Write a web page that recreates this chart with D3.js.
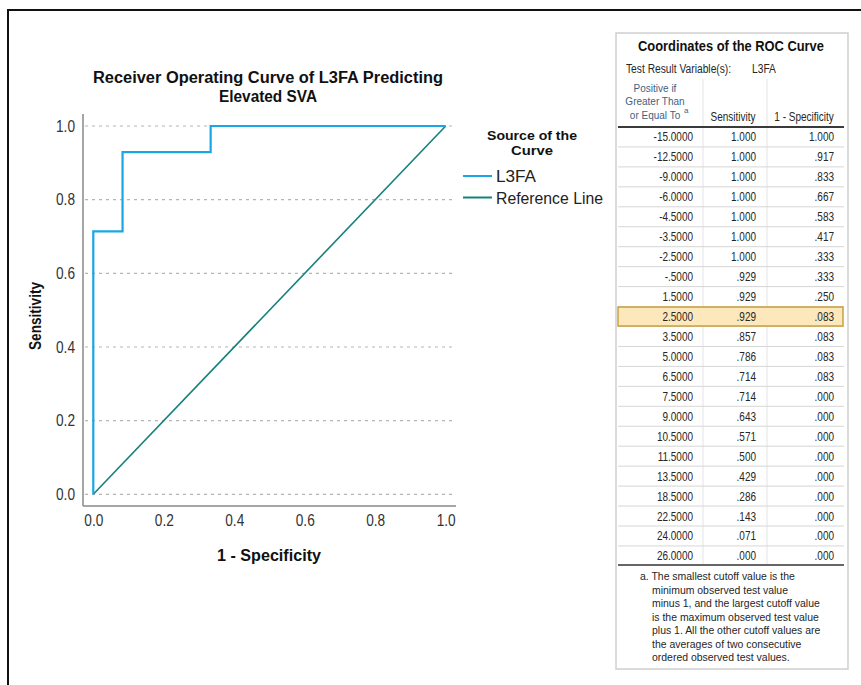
<!DOCTYPE html>
<html>
<head>
<meta charset="utf-8">
<script src="https://cdn.jsdelivr.net/npm/d3@7"></script>
<style>
	body { margin: 0; background: #fff; }
	svg { display: block; font-family: "Liberation Sans", Arial, sans-serif; }
</style>
</head>
<body>
<svg id="chart" width="861" height="685"></svg>
<script>
'use strict';

// table columns, as printed in the SPSS output
var cutoffs = ['-15.0000', '-12.5000', '-9.0000', '-6.0000', '-4.5000', '-3.5000', '-2.5000', '-.5000',
	'1.5000', '2.5000', '3.5000', '5.0000', '6.5000', '7.5000', '9.0000', '10.5000', '11.5000',
	'13.5000', '18.5000', '22.5000', '24.0000', '26.0000'];
var sensitivity = ['1.000', '1.000', '1.000', '1.000', '1.000', '1.000', '1.000', '.929', '.929', '.929',
	'.857', '.786', '.714', '.714', '.643', '.571', '.500', '.429', '.286', '.143', '.071', '.000'];
var oneMinusSpec = ['1.000', '.917', '.833', '.667', '.583', '.417', '.333', '.333', '.250', '.083',
	'.083', '.083', '.083', '.000', '.000', '.000', '.000', '.000', '.000', '.000', '.000', '.000'];
var highlightRow = 9;

var referenceLine = [[0, 0], [1, 1]];
var axisTicks = [0, 0.2, 0.4, 0.6, 0.8, 1.0];
var legendItems = ['L3FA', 'Reference Line'];
var legendColors = ['#1aa6e4', '#17807d'];

var footnote = ['a. The smallest cutoff value is the', 'minimum observed test value',
	'minus 1, and the largest cutoff value', 'is the maximum observed test value',
	'plus 1. All the other cutoff values are', 'the averages of two consecutive',
	'ordered observed test values.'];

(function() {
	var svg = d3.select('#chart');

	// outer frame
	svg.append('path')
		.attr('d', 'M8,690 L8,10 L870,10')
		.attr('fill', 'none')
		.attr('stroke', '#111')
		.attr('stroke-width', 2);

	// ---- ROC plot ----
	var x = d3.scaleLinear().domain([0, 1]).range([93.3, 445.7]);
	var y = d3.scaleLinear().domain([0, 1]).range([494.3, 126]);
	var axisX = 83, axisY = 506;

	svg.append('g').selectAll('line').data(axisTicks).enter().append('line')
		.attr('x1', axisX + 2).attr('x2', 456)
		.attr('y1', function(d) { return y(d); })
		.attr('y2', function(d) { return y(d); })
		.attr('stroke', '#b5b5b5')
		.attr('stroke-width', 1.2)
		.attr('stroke-dasharray', '3,4');

	svg.append('line')
		.attr('x1', axisX).attr('x2', axisX).attr('y1', 114).attr('y2', axisY)
		.attr('stroke', '#888').attr('stroke-width', 1.5);
	svg.append('line')
		.attr('x1', axisX).attr('x2', 456).attr('y1', axisY).attr('y2', axisY)
		.attr('stroke', '#888').attr('stroke-width', 1.5);

	var fmt = d3.format('.1f');
	var gx = svg.append('g')
		.attr('transform', 'translate(0,' + axisY + ')')
		.call(d3.axisBottom(x).tickValues(axisTicks).tickFormat(fmt).tickSize(0).tickPadding(9));
	var gy = svg.append('g')
		.attr('transform', 'translate(' + axisX + ',0)')
		.call(d3.axisLeft(y).tickValues(axisTicks).tickFormat(fmt).tickSize(0).tickPadding(8));
	[gx, gy].forEach(function(g) {
		g.select('.domain').remove();
		g.selectAll('text')
			.attr('font-family', '"Liberation Sans", Arial, sans-serif')
			.attr('font-size', 16)
			.attr('textLength', 19)
			.attr('lengthAdjust', 'spacingAndGlyphs')
			.attr('fill', '#333');
	});

	var line = d3.line()
		.x(function(d) { return x(d[0]); })
		.y(function(d) { return y(d[1]); });

	svg.append('path')
		.datum(referenceLine)
		.attr('d', line)
		.attr('fill', 'none')
		.attr('stroke', legendColors[1])
		.attr('stroke-width', 1.6);

	// ROC points, from the last cutoff (0,0) up to the first (1,1)
	var roc = cutoffs.map(function(c, i) {
		return [+oneMinusSpec[i], +sensitivity[i]];
	}).reverse();
	roc.unshift([0, 0]);

	svg.append('path')
		.datum(roc)
		.attr('d', line)
		.attr('fill', 'none')
		.attr('stroke', legendColors[0])
		.attr('stroke-width', 2.2);

	function label(txt, px, py, size, len, opts) {
		opts = opts || {};
		var t = svg.append('text')
			.attr('x', px).attr('y', py)
			.attr('text-anchor', opts.anchor || 'middle')
			.attr('font-weight', opts.normal ? 'normal' : 'bold')
			.attr('font-size', size)
			.attr('fill', opts.fill || '#111')
			.attr('textLength', len)
			.attr('lengthAdjust', 'spacingAndGlyphs')
			.text(txt);
		if (opts.rotate) t.attr('transform', 'rotate(-90,' + px + ',' + py + ')');
		return t;
	}

	// titles
	label('Receiver Operating Curve of L3FA Predicting', 268, 83, 16, 350);
	label('Elevated SVA', 268, 101.5, 16, 98);
	label('Sensitivity', 41, 316, 16, 68, {rotate: true});
	label('1 - Specificity', 269, 561, 16.5, 104);

	// legend
	label('Source of the', 532, 139.5, 13.5, 90);
	label('Curve', 532, 155, 13.5, 42);
	legendItems.forEach(function(d, i) {
		var ly = 176 + i * 21.5;
		svg.append('line')
			.attr('x1', 463).attr('x2', 492).attr('y1', ly).attr('y2', ly)
			.attr('stroke', legendColors[i])
			.attr('stroke-width', 2);
		label(d, 496, ly + 6, 17, i === 0 ? 40 : 107, {anchor: 'start', normal: true, fill: '#222'});
	});

	// ---- coordinates table ----
	var tbl = svg.append('g');
	var boxL = 616, boxR = 848, boxT = 33, boxB = 669;
	var rowTop = 127, rowH = 19.95;
	var colSep = [703, 767];
	var sx = 0.8;

	function cell(txt, cx, cy, anchor, opts) {
		opts = opts || {};
		return tbl.append('text')
			.attr('transform', 'translate(' + cx + ',' + cy + ') scale(' + (opts.sx || sx) + ',1)')
			.attr('text-anchor', anchor)
			.attr('font-size', opts.size || 12.5)
			.attr('font-weight', opts.bold ? 'bold' : 'normal')
			.attr('fill', opts.fill || '#262626')
			.text(txt);
	}

	tbl.append('rect')
		.attr('x', boxL).attr('y', boxT).attr('width', boxR - boxL).attr('height', boxB - boxT)
		.attr('fill', '#fff').attr('stroke', '#cfcfcf').attr('stroke-width', 1.5);

	cell('Coordinates of the ROC Curve', 731, 51, 'middle', {size: 14, bold: true, sx: 0.92, fill: '#111'});
	cell('Test Result Variable(s):', 626, 73, 'start', {size: 12.5, sx: 0.82});
	cell('L3FA', 752, 73, 'start', {size: 12.5, sx: 0.82});

	// column separators
	tbl.selectAll('line.col').data(colSep).enter().append('line')
		.attr('class', 'col')
		.attr('x1', function(d) { return d; }).attr('x2', function(d) { return d; })
		.attr('y1', 79).attr('y2', rowTop + cutoffs.length * rowH)
		.attr('stroke', '#e4e4e4').attr('stroke-width', 1);

	// header
	var hdr = ['Positive if', 'Greater Than', 'or Equal To'];
	hdr.forEach(function(t, i) {
		cell(t, 655, 92 + i * 13.3, 'middle', {size: 11.5, sx: 0.87, fill: '#3f5f7f'});
	});
	tbl.append('text')
		.attr('x', 684).attr('y', 113)
		.attr('font-size', 8).attr('fill', '#3f5f7f')
		.text('a');
	cell('Sensitivity', 733, 121, 'middle');
	cell('1 - Specificity', 804, 121, 'middle');

	// row separators
	tbl.selectAll('line.row').data(d3.range(1, cutoffs.length)).enter().append('line')
		.attr('class', 'row')
		.attr('x1', 618).attr('x2', 844)
		.attr('y1', function(d) { return rowTop + d * rowH; })
		.attr('y2', function(d) { return rowTop + d * rowH; })
		.attr('stroke', '#d6d6d6').attr('stroke-width', 1);

	// highlighted row
	tbl.append('rect')
		.attr('x', 618).attr('y', rowTop + highlightRow * rowH + 0.5)
		.attr('width', 225).attr('height', rowH - 1)
		.attr('fill', '#fce8bb').attr('stroke', '#c9a23a').attr('stroke-width', 1.5);

	tbl.append('line')
		.attr('x1', 618).attr('x2', 844).attr('y1', rowTop).attr('y2', rowTop)
		.attr('stroke', '#3a3a3a').attr('stroke-width', 2);
	tbl.append('line')
		.attr('x1', 618).attr('x2', 844)
		.attr('y1', rowTop + cutoffs.length * rowH - 1).attr('y2', rowTop + cutoffs.length * rowH - 1)
		.attr('stroke', '#666').attr('stroke-width', 2);

	cutoffs.forEach(function(c, i) {
		var cy = rowTop + i * rowH + rowH / 2 + 4.5;
		cell(c, 693, cy, 'end');
		cell(sensitivity[i], 756, cy, 'end');
		cell(oneMinusSpec[i], 834, cy, 'end');
	});

	footnote.forEach(function(t, i) {
		cell(t, i === 0 ? 640 : 652, 580 + i * 13.5, 'start', {size: 11.5, sx: 0.91});
	});
})();
</script>
</body>
</html>
